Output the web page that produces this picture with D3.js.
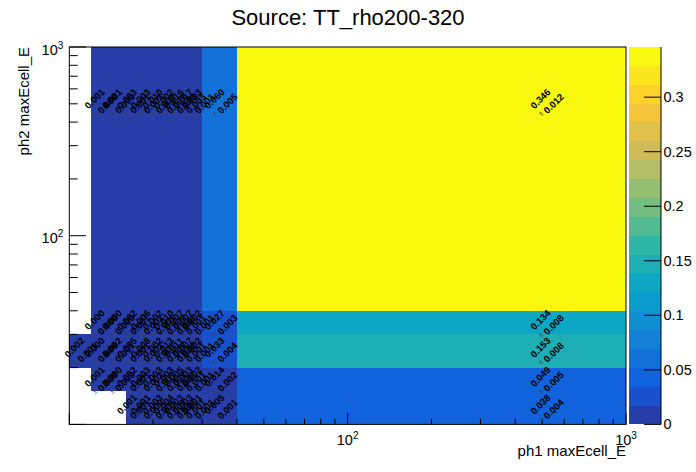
<!DOCTYPE html>
<html>
<meta charset="utf-8">
<style>
    body { margin: 0; background: #fff; }
    text { font-family: "Liberation Sans", Arial, sans-serif; }
</style>
<body>
<script src="https://cdn.jsdelivr.net/npm/d3@7"></script>
<script>

    // bin edges
    var xEdges = [10, 12, 14, 16, 18, 20, 22, 24, 26, 28, 30, 40, 1000];
    var yEdges = [10, 15, 20, 30, 40, 1000];

    // bin contents, one row per y bin (bottom to top), null = empty bin
    var row0 = [null, null, null, 0.001, 0.001, 0.003, 0.004, 0.003, 0.003, 0.001, 0.005, 0.038];
    var row1 = [null, 0.001, 0.000, 0.002, 0.003, 0.003, 0.003, 0.005, 0.003, 0.002, 0.014, 0.049];
    var row2 = [0.002, 0.000, 0.002, 0.005, 0.008, 0.002, 0.013, 0.011, 0.007, 0.002, 0.033, 0.153];
    var row3 = [null, 0.000, 0.000, 0.002, 0.006, 0.002, 0.010, 0.007, 0.007, 0.002, 0.027, 0.134];
    var row4 = [null, 0.001, 0.001, 0.003, 0.003, 0.010, 0.002, 0.016, 0.017, 0.003, 0.060, 0.346];

    // bin errors
    var err0 = [null, null, null, 0.001, 0.000, 0.001, 0.001, 0.001, 0.001, 0.001, 0.001, 0.004];
    var err1 = [null, 0.000, 0.000, 0.001, 0.001, 0.001, 0.001, 0.001, 0.001, 0.001, 0.002, 0.005];
    var err2 = [0.001, 0.000, 0.001, 0.001, 0.001, 0.001, 0.002, 0.002, 0.001, 0.001, 0.004, 0.008];
    var err3 = [null, 0.000, 0.000, 0.001, 0.001, 0.001, 0.002, 0.001, 0.001, 0.001, 0.003, 0.008];
    var err4 = [null, 0.000, 0.000, 0.001, 0.001, 0.002, 0.001, 0.003, 0.003, 0.001, 0.005, 0.012];

    var rows = [row0, row1, row2, row3, row4];
    var errs = [err0, err1, err2, err3, err4];

    var zTicks = [0, 0.05, 0.1, 0.15, 0.2, 0.25, 0.3];
    var nContours = 20;

    // kBird palette stops
    var birdStops = [0.0, 0.125, 0.25, 0.375, 0.5, 0.625, 0.75, 0.875, 1.0];
    var birdR = [0.2082, 0.0592, 0.0780, 0.0232, 0.1802, 0.5301, 0.8186, 0.9956, 0.9764];
    var birdG = [0.1664, 0.3599, 0.5041, 0.6419, 0.7178, 0.7492, 0.7328, 0.7862, 0.9832];
    var birdB = [0.5293, 0.8684, 0.8385, 0.7914, 0.6425, 0.4662, 0.3499, 0.1968, 0.0539];

    var W = 696, H = 472;
    var fl = 69.3, fr = 626, ft = 47, fb = 424.4;

    var x = d3.scaleLog().domain([10, 1000]).range([fl, fr]);
    var y = d3.scaleLog().domain([10, 1000]).range([fb, ft]);

    var zmax = d3.max(rows, function(r) { return d3.max(r); });
    var z = d3.scaleLinear().domain([0, zmax]).range([fb, ft]);

    var birdColor = d3.scaleLinear()
        .domain(birdStops)
        .range(birdStops.map(function(s, i) { return d3.rgb(birdR[i] * 255, birdG[i] * 255, birdB[i] * 255); }));

    function bandColor(k) {
        var idx = Math.floor((k + 0.99) * 255 / nContours);
        return birdColor(idx / 255);
    }
    function valueColor(v) {
        var k = Math.floor(0.01 + v * nContours / zmax);
        if (k >= nContours) k = nContours - 1;
        return bandColor(k);
    }

    var svg = d3.select("body").append("svg")
        .attr("width", W)
        .attr("height", H);

    svg.append("rect").attr("width", W).attr("height", H).attr("fill", "#fff");

    // cells
    var cells = [];
    rows.forEach(function(r, j) {
        r.forEach(function(v, i) {
            if (v === null) return;
            cells.push({i: i, j: j, v: v, e: errs[j][i]});
        });
    });

    svg.append("g").selectAll("rect")
        .data(cells)
        .enter().append("rect")
        .attr("x", function(d) { return x(xEdges[d.i]); })
        .attr("y", function(d) { return y(yEdges[d.j + 1]); })
        .attr("width", function(d) { return x(xEdges[d.i + 1]) - x(xEdges[d.i]); })
        .attr("height", function(d) { return y(yEdges[d.j]) - y(yEdges[d.j + 1]); })
        .attr("fill", function(d) { return valueColor(d.v); })
        .attr("shape-rendering", "crispEdges");

    // frame
    svg.append("rect")
        .attr("x", fl).attr("y", ft)
        .attr("width", fr - fl).attr("height", fb - ft)
        .attr("fill", "none").attr("stroke", "#000").attr("stroke-width", 1);

    // axis ticks
    var decTicks = [10, 100, 1000];
    var logTicks = [];
    [10, 100].forEach(function(b) {
        for (var m = 1; m < 10; m++) logTicks.push(b * m);
    });
    logTicks.push(1000);

    var ticks = svg.append("g").attr("stroke", "#000").attr("stroke-width", 1);
    logTicks.forEach(function(t) {
        var major = decTicks.indexOf(t) >= 0;
        ticks.append("line")
            .attr("x1", x(t)).attr("x2", x(t))
            .attr("y1", fb).attr("y2", fb - (major ? 11.3 : 5.7));
        ticks.append("line")
            .attr("x1", fl).attr("x2", fl + (major ? 16.7 : 8.4))
            .attr("y1", y(t)).attr("y2", y(t));
    });

    // tick labels
    function powLabel(sel, exp) {
        sel.append("tspan").text("10");
        sel.append("tspan").attr("font-size", "10px").attr("dy", -6).text(exp);
    }
    [100, 1000].forEach(function(t) {
        var tx = svg.append("text")
            .attr("x", x(t)).attr("y", fb + 20.8)
            .attr("text-anchor", "middle")
            .attr("font-size", "14.5px");
        powLabel(tx, Math.round(Math.log10(t)));
        var ty = svg.append("text")
            .attr("x", fl - 6).attr("y", y(t) + 7.6)
            .attr("text-anchor", "end")
            .attr("font-size", "14.5px");
        powLabel(ty, Math.round(Math.log10(t)));
    });

    // axis titles
    svg.append("text")
        .attr("x", fr).attr("y", 456)
        .attr("text-anchor", "end")
        .attr("font-size", "15px")
        .text("ph1 maxEcell_E");

    svg.append("text")
        .attr("transform", "translate(29," + ft + ") rotate(-90)")
        .attr("text-anchor", "end")
        .attr("font-size", "15px")
        .text("ph2 maxEcell_E");

    // title
    svg.append("text")
        .attr("x", 348).attr("y", 25)
        .attr("text-anchor", "middle")
        .attr("font-size", "22px")
        .text("Source: TT_rho200-320");

    // cell texts (linear bin centre, rotated 45 deg)
    var fmt = d3.format(".3f");
    var txt = svg.append("g").attr("font-size", "9.5px").attr("font-weight", "bold");
    cells.forEach(function(d) {
        var cx = x((xEdges[d.i] + xEdges[d.i + 1]) / 2);
        var cy = y((yEdges[d.j] + yEdges[d.j + 1]) / 2);
        txt.append("text")
            .attr("transform", "translate(" + (cx - 6.5) + "," + (cy - 2) + ") rotate(-45)")
            .attr("text-anchor", "middle")
            .attr("dominant-baseline", "central")
            .text(fmt(d.v));
        txt.append("text")
            .attr("transform", "translate(" + (cx + 6.6) + "," + (cy + 2.8) + ") rotate(-45)")
            .attr("text-anchor", "middle")
            .attr("dominant-baseline", "central")
            .text(fmt(d.e));
        txt.append("text")
            .attr("transform", "translate(" + (cx - 6.3) + "," + (cy + 12.7) + ") rotate(-45)")
            .attr("text-anchor", "middle")
            .attr("dominant-baseline", "central")
            .attr("font-size", "7.5px")
            .attr("font-weight", "normal")
            .attr("fill", "#444")
            .text("\u00b1");
    });

    // colour bar
    var pl = 629, pr = 661;
    var bands = d3.range(nContours);
    svg.append("g").selectAll("rect")
        .data(bands)
        .enter().append("rect")
        .attr("x", pl)
        .attr("width", pr - pl)
        .attr("y", function(k) { return z((k + 1) * zmax / nContours); })
        .attr("height", function(k) { return z(k * zmax / nContours) - z((k + 1) * zmax / nContours); })
        .attr("fill", function(k) { return bandColor(k); })
        .attr("shape-rendering", "crispEdges");

    svg.append("line")
        .attr("x1", pr).attr("x2", pr)
        .attr("y1", ft).attr("y2", fb)
        .attr("stroke", "#000");

    zTicks.forEach(function(t) {
        svg.append("line")
            .attr("x1", pr - 17).attr("x2", pr)
            .attr("y1", z(t)).attr("y2", z(t))
            .attr("stroke", "#000");
        svg.append("text")
            .attr("x", pr + 2.5).attr("y", z(t))
            .attr("dominant-baseline", "central")
            .attr("font-size", "14.5px")
            .text(t === 0 ? "0" : String(t));
    });

</script>
</body>
</html>
